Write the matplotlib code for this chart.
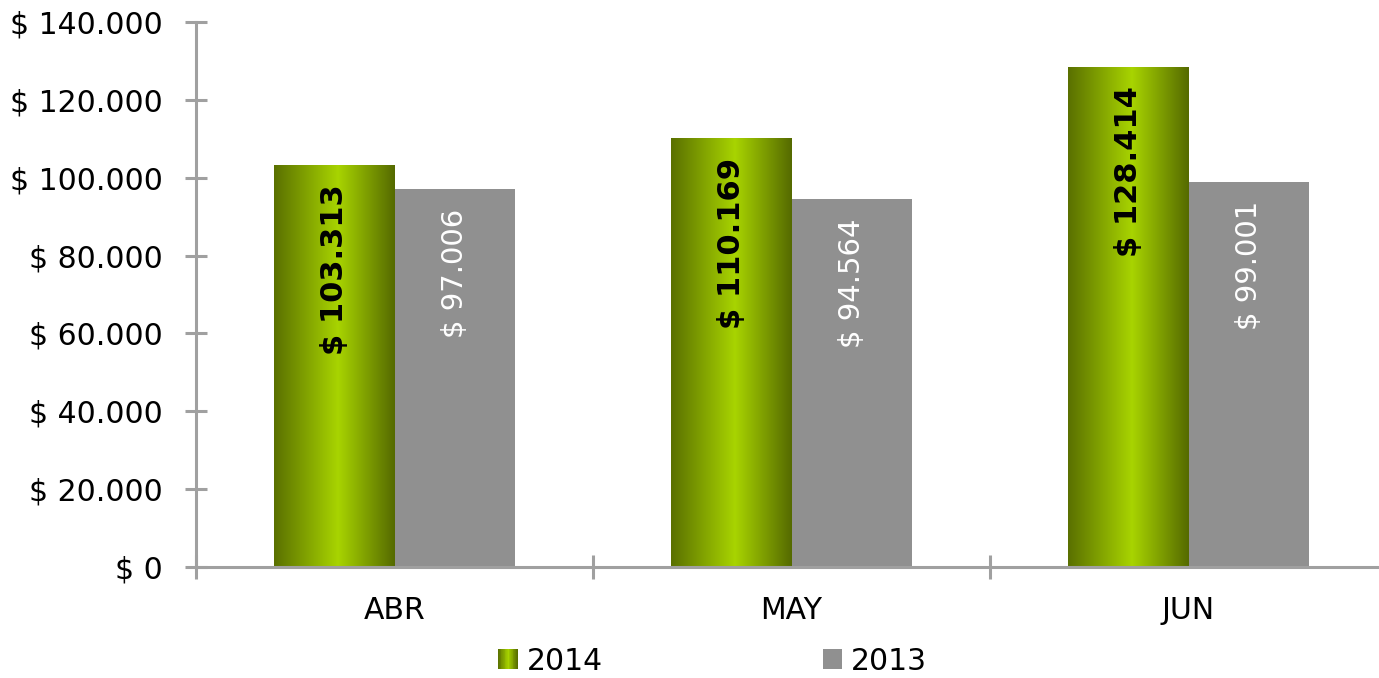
import matplotlib
matplotlib.use("Agg")
import matplotlib.pyplot as plt
import numpy as np
from matplotlib.colors import LinearSegmentedColormap
from matplotlib.patches import Rectangle
from matplotlib.legend_handler import HandlerBase
from matplotlib.ticker import FuncFormatter, FixedLocator

months = ["ABR", "MAY", "JUN"]
sales_2014 = [103313, 110169, 128414]
sales_2013 = [97006, 94564, 99001]
y_ticks = [0, 20000, 40000, 60000, 80000, 100000, 120000, 140000]

GRAY = "#909090"
SPINE = "#a0a0a0"
green_cmap = LinearSegmentedColormap.from_list(
    "green_bar", [(0.0, "#5a7000"), (0.53, "#a8d400"), (1.0, "#556a00")]
)


def money(v):
    return "$ " + f"{int(round(v)):,}".replace(",", ".")


class GradientHandler(HandlerBase):
    def create_artists(self, legend, orig_handle, xdescent, ydescent,
                       width, height, fontsize, trans):
        side = height * 1.0
        x0 = -xdescent + width - side
        n = 24
        arts = []
        for i in range(n):
            r = Rectangle((x0 + side * i / n, -ydescent), side / n + 0.3, side,
                          facecolor=green_cmap((i + 0.5) / n), edgecolor="none",
                          transform=trans)
            arts.append(r)
        return arts


class SquareHandler(HandlerBase):
    def create_artists(self, legend, orig_handle, xdescent, ydescent,
                       width, height, fontsize, trans):
        side = height * 1.0
        r = Rectangle((-xdescent + width - side, -ydescent), side, side,
                      facecolor=GRAY, edgecolor="none", transform=trans)
        return [r]


plt.rcParams["font.family"] = ["DejaVu Sans"]

fig = plt.figure(figsize=(13.79, 6.78), dpi=100)
ax = fig.add_axes([0.1421, 0.1637, 0.8637, 0.8039])

x = np.arange(len(months))
w = 0.303
bars14 = ax.bar(x - w / 2, sales_2014, w, facecolor="none", edgecolor="none")
bars13 = ax.bar(x + w / 2, sales_2013, w, color=GRAY, edgecolor="none")

grad = np.linspace(0, 1, 256).reshape(1, -1)
for b in bars14:
    x0, y0 = b.get_x(), b.get_y()
    im = ax.imshow(grad, cmap=green_cmap, aspect="auto",
                   extent=[x0, x0 + b.get_width(), y0, y0 + b.get_height()],
                   zorder=1.5)
    im.set_clip_path(b)

ax.set_xlim(-0.5, 2.5)
ax.set_ylim(0, 140000)

for b, v in zip(bars14, sales_2014):
    ax.annotate(money(v), (b.get_x() + b.get_width() / 2, v),
                xytext=(0, -14), textcoords="offset points",
                rotation=90, ha="center", va="top",
                fontsize=22, fontweight="bold", color="black", zorder=3)
for b, v in zip(bars13, sales_2013):
    ax.annotate(money(v), (b.get_x() + b.get_width() / 2, v),
                xytext=(0, -14), textcoords="offset points",
                rotation=90, ha="center", va="top",
                fontsize=21, color="white", zorder=3)

ax.yaxis.set_major_locator(FixedLocator(y_ticks))
ax.yaxis.set_major_formatter(FuncFormatter(lambda v, p: money(v)))
ax.set_xticks(x)
ax.set_xticklabels(months)
ax.set_xticks([-0.5, 0.5, 1.5, 2.5], minor=True)

for s in ["top", "right"]:
    ax.spines[s].set_visible(False)
for s in ["left", "bottom"]:
    ax.spines[s].set_color(SPINE)
    ax.spines[s].set_linewidth(2.2)

ax.tick_params(axis="y", direction="inout", length=16, width=2.2,
               color=SPINE, labelsize=21.5, pad=16)
ax.tick_params(axis="x", which="major", length=0, labelsize=21.5, pad=21)
ax.tick_params(axis="x", which="minor", direction="inout", length=17,
               width=2.2, color=SPINE)

h14 = Rectangle((0, 0), 1, 1)
h13 = Rectangle((0, 0), 1, 1)
fig.legend([h14, h13], ["2014", "2013"],
           handler_map={h14: GradientHandler(), h13: SquareHandler()},
           loc="center", bbox_to_anchor=(0.517, 0.025), ncol=2,
           frameon=False, fontsize=21.5, handlelength=0.62, handleheight=0.62,
           handletextpad=0.3, columnspacing=7.4)

fig.savefig("out.png", dpi=100)
